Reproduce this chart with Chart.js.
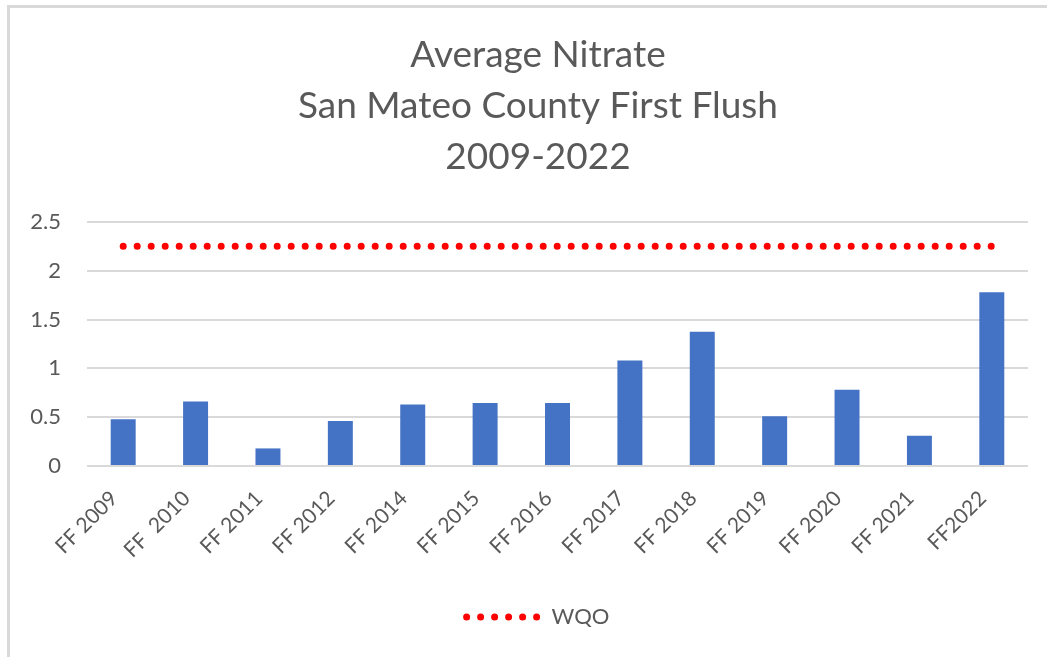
<!DOCTYPE html>
<html>
<head>
<meta charset="utf-8">
<script src="https://cdn.jsdelivr.net/npm/chart.js@4/dist/chart.umd.min.js"></script>
<style>
  body { margin: 0; background: #fff; }
  #wrap { position: relative; width: 1047px; height: 657px; overflow: hidden; }
  #frame {
    position: absolute; left: 7px; top: 5px; width: 1100px; height: 700px;
    border-left: 3px solid #d9d9d9; border-top: 3px solid #d9d9d9;
  }
  #chart { position: absolute; left: 0; top: 0; }
</style>
</head>
<body>
<div id="wrap">
  <div id="frame"></div>
  <canvas id="chart" width="1047" height="657"></canvas>
</div>
<script>
const categories = ["FF 2009", "FF  2010", "FF 2011", "FF 2012", "FF 2014", "FF 2015", "FF 2016",
  "FF 2017", "FF 2018", "FF 2019", "FF 2020", "FF 2021", "FF2022"];
const nitrate = [0.48, 0.66, 0.18, 0.46, 0.63, 0.645, 0.645, 1.08, 1.375, 0.51, 0.78, 0.31, 1.78];
const wqo = [2.25, 2.25, 2.25, 2.25, 2.25, 2.25, 2.25, 2.25, 2.25, 2.25, 2.25, 2.25, 2.25];
const yTicks = [0, 0.5, 1, 1.5, 2, 2.5];
const titleLines = ["Average Nitrate", "San Mateo County First Flush", "2009-2022"];

const textColor = "#595959";
const fontFamily = "Lato, 'Liberation Sans', sans-serif";
const wqoColor = "#ff0000";

// y labels sit left of the narrow y scale box, so widen its clip area after layout
const unclipYLabels = {
  id: "unclipYLabels",
  afterLayout(chart) {
    chart.scales.y.left = 0;
  },
};

const ctx = document.getElementById("chart").getContext("2d");

new Chart(ctx, {
  type: "bar",
  data: {
    labels: categories,
    datasets: [
      {
        type: "line",
        label: "WQO",
        data: wqo,
        borderColor: wqoColor,
        backgroundColor: wqoColor,
        borderWidth: 7,
        borderDash: [0, 14],
        borderCapStyle: "round",
        pointRadius: 0,
        fill: false,
        order: 0,
      },
      {
        label: "Nitrate",
        data: nitrate,
        backgroundColor: "#4472c4",
        barPercentage: 0.345,
        categoryPercentage: 1,
        order: 1,
      },
    ],
  },
  options: {
    responsive: false,
    animation: false,
    layout: { padding: { top: 30, left: 48, right: 19, bottom: 19 } },
    plugins: {
      title: {
        display: true,
        text: titleLines,
        color: textColor,
        font: { family: fontFamily, size: 37, weight: "normal", lineHeight: 1.378 },
        padding: { top: 0, bottom: 39 },
      },
      legend: {
        position: "bottom",
        labels: {
          color: textColor,
          font: { family: fontFamily, size: 22 },
          usePointStyle: true,
          pointStyleWidth: 74,
          generateLabels: () => [{
            text: "WQO",
            fillStyle: wqoColor,
            strokeStyle: wqoColor,
            fontColor: textColor,
            lineWidth: 7,
            lineDash: [0, 14],
            lineCap: "round",
            pointStyle: "line",
            hidden: false,
            datasetIndex: 0,
          }],
        },
      },
      tooltip: { enabled: false },
    },
    scales: {
      x: {
        grid: { display: false, drawTicks: false },
        border: { display: false },
        ticks: {
          color: textColor,
          font: { family: fontFamily, size: 21 },
          minRotation: 45,
          maxRotation: 45,
          padding: 20,
          labelOffset: -9,
          autoSkip: false,
        },
        afterFit: s => { s.height = 130; },
      },
      y: {
        min: 0,
        max: 2.5,
        grid: { color: "#d9d9d9", lineWidth: 2, drawTicks: false },
        border: { display: false },
        afterBuildTicks: s => { s.ticks = yTicks.map(v => ({ value: v })); },
        ticks: {
          color: textColor,
          font: { family: fontFamily, size: 22 },
          padding: 26,
          callback: v => String(v),
        },
        afterFit: s => { s.width = 39; },
      },
    },
  },
  plugins: [unclipYLabels],
});
</script>
</body>
</html>
